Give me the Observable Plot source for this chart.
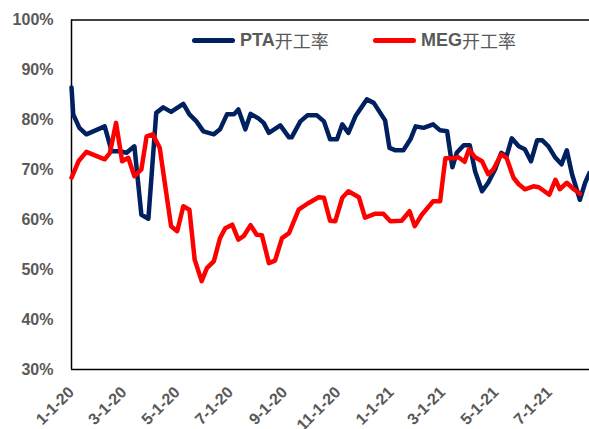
<!DOCTYPE html>
<html><head><meta charset="utf-8">
<script src="https://cdn.jsdelivr.net/npm/d3@7"></script>
<script src="https://cdn.jsdelivr.net/npm/@observablehq/plot@0.6"></script>
<style>
body{margin:0;background:#fff;}
#wrap{position:relative;width:589px;height:429px;}
.leg{position:absolute;top:30px;height:20px;display:flex;align-items:center;font-family:"Liberation Sans",Arial,sans-serif;font-size:18px;color:#595959;white-space:nowrap}
.sw{display:inline-block;width:43px;height:5px;border-radius:3px;margin-right:5px}
.lat{font-weight:bold}
.cjk{font-family:"Noto Sans CJK SC",sans-serif;font-weight:normal}
</style></head><body><div id="wrap"></div>
<script>
const seriesNames = ["PTA开工率", "MEG开工率"];
const seriesColors = ["#002060", "#FF0000"];

const ptaDates = ["2020-01-01","2020-01-03","2020-01-10","2020-01-18","2020-02-08","2020-02-16","2020-02-25","2020-03-04","2020-03-13","2020-03-21","2020-03-29","2020-04-07","2020-04-15","2020-04-24","2020-05-08","2020-05-15","2020-05-23","2020-05-31","2020-06-12","2020-06-19","2020-06-27","2020-07-05","2020-07-10","2020-07-18","2020-07-24","2020-08-02","2020-08-08","2020-08-14","2020-08-27","2020-09-06","2020-09-09","2020-09-19","2020-09-27","2020-10-08","2020-10-16","2020-10-23","2020-10-31","2020-11-06","2020-11-13","2020-11-21","2020-12-04","2020-12-12","2020-12-25","2020-12-30","2021-01-06","2021-01-15","2021-01-23","2021-01-29","2021-02-07","2021-02-18","2021-02-26","2021-03-06","2021-03-12","2021-03-17","2021-03-25","2021-04-01","2021-04-07","2021-04-15","2021-04-22","2021-04-30","2021-05-07","2021-05-13","2021-05-19","2021-05-27","2021-06-03","2021-06-10","2021-06-17","2021-06-23","2021-06-30","2021-07-08","2021-07-15","2021-07-21","2021-07-27","2021-08-05","2021-08-11","2021-08-16"];
const ptaValues = [86.5,81.1,78.4,77.1,78.7,73.7,73.7,73.4,74.7,61.0,60.2,81.4,82.5,81.6,83.2,81.1,79.7,77.7,77.1,78.1,81.1,81.1,82.1,78.1,81.2,80.3,79.4,77.4,78.9,76.5,76.5,79.7,80.9,80.9,79.7,76.1,76.1,79.1,77.4,80.7,84.1,83.4,79.9,74.4,73.9,73.9,76.1,78.7,78.4,79.1,77.9,77.7,70.5,73.4,74.9,74.9,69.7,65.7,67.4,70.1,73.4,72.7,76.3,74.7,74.1,71.7,75.9,75.9,74.7,72.4,71.1,73.9,69.1,64.0,67.4,69.4];

const megDates = ["2020-01-01","2020-01-09","2020-01-18","2020-02-08","2020-02-14","2020-02-21","2020-02-28","2020-03-06","2020-03-13","2020-03-21","2020-03-27","2020-04-03","2020-04-11","2020-04-24","2020-05-01","2020-05-08","2020-05-15","2020-05-21","2020-05-29","2020-06-04","2020-06-12","2020-06-19","2020-06-25","2020-07-03","2020-07-10","2020-07-16","2020-07-24","2020-07-31","2020-08-06","2020-08-14","2020-08-21","2020-08-29","2020-09-06","2020-09-17","2020-09-27","2020-10-10","2020-10-16","2020-10-23","2020-10-29","2020-11-06","2020-11-13","2020-11-25","2020-12-02","2020-12-14","2020-12-23","2020-12-31","2021-01-13","2021-01-22","2021-01-28","2021-02-05","2021-02-18","2021-02-26","2021-03-04","2021-03-13","2021-03-19","2021-03-26","2021-03-31","2021-04-07","2021-04-15","2021-04-22","2021-04-28","2021-05-07","2021-05-13","2021-05-21","2021-05-27","2021-06-03","2021-06-13","2021-06-19","2021-07-01","2021-07-08","2021-07-13","2021-07-21","2021-07-29","2021-08-05"];
const megValues = [68.4,71.7,73.6,72.1,73.4,79.4,71.7,72.4,68.7,70.1,76.7,77.1,74.4,58.7,57.7,62.7,62.0,52.0,47.7,50.3,51.7,56.3,58.3,59.0,56.0,56.7,58.9,57.0,56.9,51.3,51.8,56.3,57.3,62.0,63.2,64.5,64.4,59.8,59.7,64.4,65.7,64.5,60.4,61.2,61.2,59.7,59.8,61.7,58.7,61.0,63.7,63.7,72.3,72.3,72.5,71.6,74.1,72.5,71.7,69.1,70.1,73.1,72.4,68.4,67.1,66.1,66.7,66.5,65.0,68.0,66.1,67.4,66.1,65.2];

const xTickDates = ["2020-01-01","2020-03-01","2020-05-01","2020-07-01","2020-09-01","2020-11-01","2021-01-01","2021-03-01","2021-05-01","2021-07-01"];
const xTickLabels = ["1-1-20","3-1-20","5-1-20","7-1-20","9-1-20","11-1-20","1-1-21","3-1-21","5-1-21","7-1-21"];
const xDomain = ["2020-01-01", "2021-08-16"];
const yTicks = [30, 40, 50, 60, 70, 80, 90, 100];

const toRows = (dates, vals) => dates.map((d, i) => ({date: new Date(d), v: vals[i]}));
const pta = toRows(ptaDates, ptaValues);
const meg = toRows(megDates, megValues);
const xTicks = xTickDates.map(d => new Date(d));
const labelOf = d => xTickLabels[xTicks.findIndex(t => +t === +d)];

const chart = Plot.plot({
  width: 589, height: 429,
  marginLeft: 71, marginRight: 0, marginTop: 19.5, marginBottom: 60,
  style: {fontFamily: "'Liberation Sans', Arial, sans-serif", fontSize: "16px", fontWeight: "bold", color: "#595959", background: "#fff", overflow: "visible"},
  x: {type: "utc", domain: xDomain.map(d => new Date(d)), label: null},
  y: {domain: [30, 100], label: null},
  marks: [
    Plot.axisY({ticks: yTicks, tickSize: 0, tickPadding: 18, tickFormat: d => d + "%", label: null}),
    Plot.axisX({ticks: xTicks, tickSize: 0, tickPadding: 20, tickRotate: -45, tickFormat: labelOf, label: null}),
    Plot.ruleY([yTicks[0], yTicks[yTicks.length - 1]], {stroke: "#000", strokeWidth: 1.5}),
    Plot.ruleX([xTicks[0]], {stroke: "#000", strokeWidth: 1.5}),
    Plot.line(pta, {x: "date", y: "v", stroke: seriesColors[0], strokeWidth: 4.5, strokeLinejoin: "round", strokeLinecap: "round"}),
    Plot.line(meg, {x: "date", y: "v", stroke: seriesColors[1], strokeWidth: 4.5, strokeLinejoin: "round", strokeLinecap: "round"})
  ]
});

const wrap = document.getElementById("wrap");
wrap.appendChild(chart);

const legendLeft = [192, 373];
seriesNames.forEach((name, i) => {
  const item = document.createElement("div");
  item.className = "leg";
  item.style.left = legendLeft[i] + "px";
  const sw = document.createElement("span");
  sw.className = "sw";
  sw.style.background = seriesColors[i];
  const lat = document.createElement("span");
  lat.className = "lat";
  lat.textContent = name.slice(0, 3);
  const cjk = document.createElement("span");
  cjk.className = "cjk";
  cjk.textContent = name.slice(3);
  item.append(sw, lat, cjk);
  wrap.appendChild(item);
});
</script>
</body></html>
